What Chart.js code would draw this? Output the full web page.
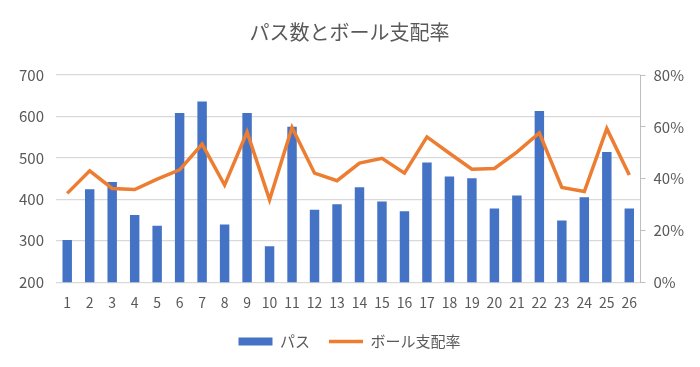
<!DOCTYPE html>
<html lang="ja">
<head>
<meta charset="utf-8">
<script src="https://cdn.jsdelivr.net/npm/chart.js@4/dist/chart.umd.min.js"></script>
<style>
    html, body { margin: 0; padding: 0; background: #fff; }
    #wrap { width: 700px; height: 367px; }
</style>
</head>
<body>
<div id="wrap"><canvas id="chart" width="700" height="367"></canvas></div>
<script>
// --- Data ---
const matches = ['1','2','3','4','5','6','7','8','9','10','11','12','13','14','15','16','17','18','19','20','21','22','23','24','25','26'];
const passes = [302, 424, 442, 362, 336, 608, 636, 339, 608, 287, 575, 375, 388, 429, 395, 371, 489, 455, 451, 378, 409, 613, 349, 405, 514, 378];
const possession = [0.343, 0.430, 0.362, 0.358, 0.398, 0.434, 0.533, 0.375, 0.580, 0.318, 0.597, 0.421, 0.392, 0.460, 0.478, 0.421, 0.561, 0.498, 0.436, 0.439, 0.502, 0.576, 0.366, 0.350, 0.593, 0.414];

const FONT = "'Noto Sans CJK JP', 'Noto Sans', sans-serif";
const GRAY = '#595959';

new Chart(document.getElementById('chart'), {
    data: {
        labels: matches,
        datasets: [
            {
                type: 'line',
                label: 'ボール支配率',
                data: possession,
                yAxisID: 'y1',
                borderColor: '#ED7D31',
                backgroundColor: '#ED7D31',
                borderWidth: 3.5,
                pointRadius: 0,
                pointStyle: 'line',
                tension: 0,
                order: 0
            },
            {
                type: 'bar',
                label: 'パス',
                data: passes,
                yAxisID: 'y',
                backgroundColor: '#4472C4',
                borderWidth: 0,
                pointStyle: 'rect',
                barPercentage: 0.42,
                categoryPercentage: 1,
                order: 1
            }
        ]
    },
    options: {
        responsive: false,
        animation: false,
        layout: { padding: { left: 7, right: 8, top: 10, bottom: 8 } },
        plugins: {
            title: {
                display: true,
                text: 'パス数とボール支配率',
                color: GRAY,
                font: { family: FONT, size: 20, weight: 'normal' },
                padding: { top: 10, bottom: 31 }
            },
            legend: {
                position: 'bottom',
                reverse: true,
                labels: {
                    color: GRAY,
                    font: { family: FONT, size: 15 },
                    usePointStyle: true,
                    pointStyleWidth: 34,
                    boxHeight: 8,
                    padding: 19
                }
            },
            tooltip: { enabled: false }
        },
        scales: {
            x: {
                grid: { display: false },
                border: { display: false },
                ticks: { color: GRAY, font: { family: FONT, size: 14 }, maxRotation: 0, autoSkip: false, padding: 4 }
            },
            y: {
                position: 'left',
                min: 200,
                max: 700,
                ticks: { stepSize: 100, color: GRAY, font: { family: FONT, size: 15 }, padding: 12 },
                grid: { color: '#D9D9D9', lineWidth: 1.2, drawTicks: false },
                border: { display: false }
            },
            y1: {
                position: 'right',
                min: 0,
                max: 0.8,
                ticks: {
                    stepSize: 0.2,
                    color: GRAY,
                    font: { family: FONT, size: 15 },
                    padding: 8,
                    callback: v => Math.round(v * 100) + '%'
                },
                grid: { drawOnChartArea: false, color: '#BFBFBF', tickLength: 5 },
                border: { display: true, color: '#BFBFBF' }
            }
        }
    }
});
</script>
</body>
</html>
